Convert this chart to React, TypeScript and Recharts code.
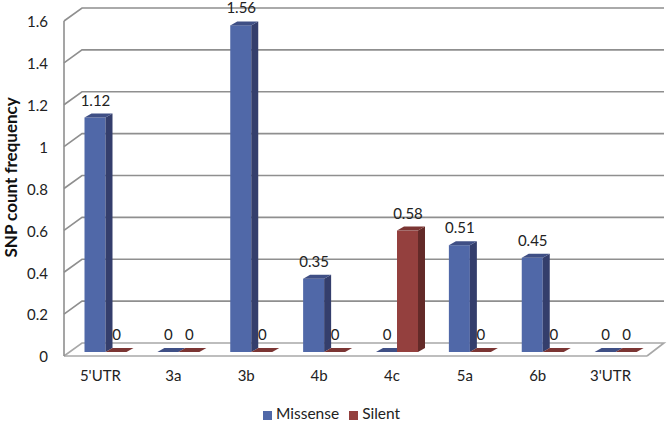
import React from "react";
import { BarChart, Bar, XAxis, YAxis, CartesianGrid, Legend, LabelList } from "recharts";

const categories = ["5'UTR", "3a", "3b", "4b", "4c", "5a", "6b", "3'UTR"];
const missense = [1.12, 0, 1.56, 0.35, 0, 0.51, 0.45, 0];
const silent = [0, 0, 0, 0, 0.58, 0, 0, 0];
const yTicks = [0, 0.2, 0.4, 0.6, 0.8, 1, 1.2, 1.4, 1.6];

const data = categories.map((name, i) => ({ name, Missense: missense[i], Silent: silent[i] }));

const FONT = "Lato, Carlito, sans-serif";
const SHIFT_X = 5.5;
const SHIFT_Y = -4;
const DX = 7;
const DY = -4;
const WALL_X = 18;
const WALL_Y = -13;
const GRID = "#8f8f8f";

const palettes: Record<string, { front: string; side: string; top: string }> = {
  Missense: { front: "#5068a8", side: "#343e6c", top: "#3f4f85" },
  Silent: { front: "#94403e", side: "#632a28", top: "#7b3533" },
};

const Bar3D = (props: any) => {
  const { x, y, width, height, dataKey } = props;
  const c = palettes[dataKey];
  const l = x + SHIFT_X;
  const r = l + width;
  const t = y + SHIFT_Y;
  const b = t + height;
  return (
    <g>
      <rect x={l} y={t} width={width} height={height} fill={c.front} />
      <polygon points={`${r},${t} ${r + DX},${t + DY} ${r + DX},${b + DY} ${r},${b}`} fill={c.side} />
      <polygon points={`${l},${t} ${l + DX},${t + DY} ${r + DX},${t + DY} ${r},${t}`} fill={c.top} />
    </g>
  );
};

const ValueLabel = (props: any) => {
  const { x, y, width, value } = props;
  return (
    <text x={x + width / 2 + SHIFT_X + 0.5} y={y + SHIFT_Y - 12} fontFamily={FONT} fontSize={15} fill="#222" textAnchor="middle">
      {value}
    </text>
  );
};

const GridLine = (props: any) => {
  const { x1, x2, y1, index } = props;
  const isFloor = y1 > 350;
  const pts = isFloor
    ? `${x1},${y1} ${x1 + WALL_X},${y1 + WALL_Y} ${x2 + WALL_X - 1},${y1 + WALL_Y} ${x2},${y1}`
    : `${x1},${y1} ${x1 + WALL_X},${y1 + WALL_Y} ${x2 + WALL_X - 1},${y1 + WALL_Y}`;
  return <polyline key={index} points={pts} fill="none" stroke={isFloor ? "#a8a8a8" : GRID} strokeWidth={1.6} />;
};

export default function App() {
  return (
    <div style={{ position: "absolute", left: 0, top: 0, width: 669, height: 424, background: "#fff" }}>
      <BarChart
        width={669}
        height={424}
        data={data}
        margin={{ top: 21, right: 22, left: 0, bottom: 0 }}
        barSize={21}
        barGap={0}
      >
        <CartesianGrid horizontal={GridLine as any} vertical={false} />
        <XAxis
          dataKey="name"
          height={48}
          interval={0}
          tickLine={false}
          tickSize={0}
          tickMargin={14}
          axisLine={{ stroke: "#a8a8a8", strokeWidth: 1.6 }}
          tick={{ fontFamily: FONT, fontSize: 15, fill: "#222" }}
        />
        <YAxis
          width={64}
          domain={[0, 1.6]}
          ticks={yTicks}
          interval={0}
          tickLine={false}
          tickSize={0}
          tickMargin={16}
          axisLine={{ stroke: GRID, strokeWidth: 1.6 }}
          tick={{ fontFamily: FONT, fontSize: 15, fill: "#222", dy: 1 }}
          label={{
            value: "SNP count frequency",
            angle: -90,
            position: "insideLeft",
            dx: 6,
            dy: 69,
            style: { fontFamily: FONT, fontSize: 17, fontWeight: 700, fill: "#111" },
          }}
        />
        <Legend
          align="left"
          iconType="square"
          iconSize={9}
          height={0}
          wrapperStyle={{ position: "absolute", left: 263, top: 404, width: 170, height: 20, fontFamily: FONT, fontSize: 15.5 }}
          formatter={(v: string) => <span style={{ color: "#222" }}>{v}</span>}
        />
        <Bar dataKey="Missense" fill="#5068a8" shape={Bar3D} isAnimationActive={false}>
          <LabelList dataKey="Missense" content={ValueLabel} />
        </Bar>
        <Bar dataKey="Silent" fill="#94403e" shape={Bar3D} isAnimationActive={false}>
          <LabelList dataKey="Silent" content={ValueLabel} />
        </Bar>
      </BarChart>
    </div>
  );
}
